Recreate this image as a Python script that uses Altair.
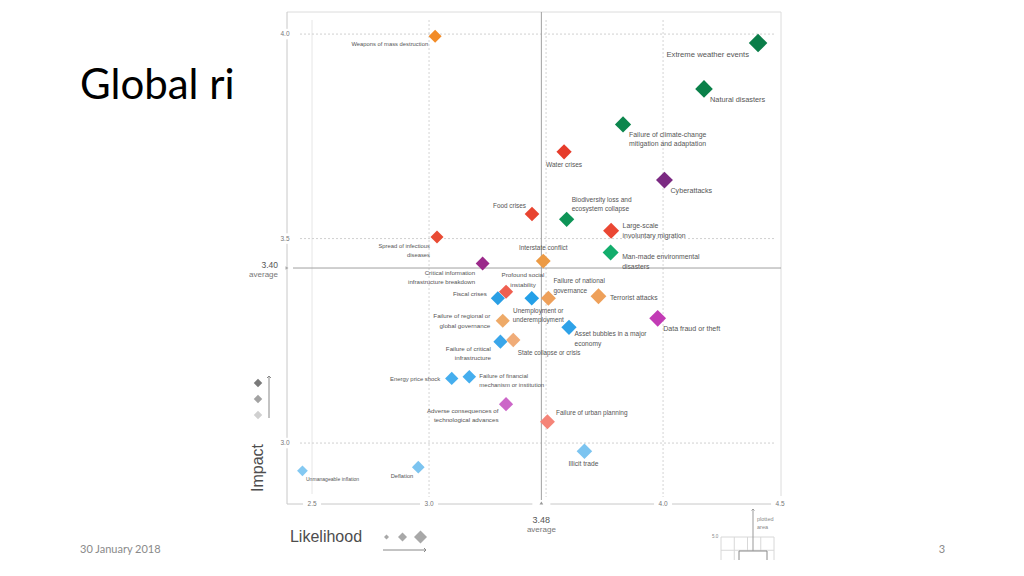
import altair as alt
import pandas as pd

# ---------------- data ----------------
risks = [
    "Weapons of mass destruction", "Extreme weather events", "Natural disasters",
    "Failure of climate-change mitigation and adaptation", "Water crises", "Cyberattacks",
    "Food crises", "Biodiversity loss and ecosystem collapse", "Large-scale involuntary migration",
    "Spread of infectious diseases", "Man-made environmental disasters", "Interstate conflict",
    "Critical information infrastructure breakdown", "Profound social instability", "Fiscal crises",
    "Unemployment or underemployment", "Failure of national governance", "Terrorist attacks",
    "Data fraud or theft", "Failure of regional or global governance", "Asset bubbles in a major economy",
    "Failure of critical infrastructure", "State collapse or crisis", "Energy price shock",
    "Failure of financial mechanism or institution", "Adverse consequences of technological advances",
    "Failure of urban planning", "Illicit trade", "Deflation", "Unmanageable inflation",
]
likelihood = [3.026, 4.406, 4.175, 3.829, 3.577, 4.006, 3.440, 3.588, 3.778, 3.034,
              3.776, 3.488, 3.229, 3.329, 3.294, 3.439, 3.510, 3.724, 3.977, 3.315,
              3.598, 3.305, 3.360, 3.097, 3.172, 3.329, 3.506, 3.664, 2.954, 2.459]
impact = [3.995, 3.978, 3.866, 3.779, 3.712, 3.643, 3.560, 3.547, 3.519, 3.504,
          3.466, 3.445, 3.439, 3.370, 3.354, 3.354, 3.354, 3.359, 3.305, 3.299,
          3.283, 3.248, 3.252, 3.158, 3.162, 3.095, 3.052, 2.980, 2.941, 2.932]
colors = ["#f28c28", "#0a7d49", "#0a8049", "#0c864d", "#e63c2b", "#7b2a82",
          "#e84430", "#0e9457", "#ea4733", "#e94b34", "#13ad6c", "#ec9a44",
          "#9b2a8a", "#ef5f50", "#2a9fe4", "#24a0e8", "#eea05a", "#eea05a",
          "#c23bb5", "#eeaa68", "#2ea2e8", "#3aa6ea", "#f0ac78", "#45aeee",
          "#45aeee", "#cc66c8", "#f58478", "#7cc4f0", "#7cc4f0", "#84c9f2"]
labels = [
    "Weapons of mass destruction", "Extreme weather events", "Natural disasters",
    "Failure of climate-change\nmitigation and adaptation", "Water crises", "Cyberattacks",
    "Food crises", "Biodiversity loss and\necosystem collapse", "Large-scale\ninvoluntary migration",
    "Spread of infectious\ndiseases", "Man-made environmental\ndisasters", "Interstate conflict",
    "Critical information\ninfrastructure breakdown", "Profound social\ninstability", "Fiscal crises",
    "Unemployment or\nunderemployment", "Failure of national\ngovernance", "Terrorist attacks",
    "Data fraud or theft", "Failure of regional or\nglobal governance", "Asset bubbles in a major\neconomy",
    "Failure of critical\ninfrastructure", "State collapse or crisis", "Energy price shock",
    "Failure of financial\nmechanism or institution", "Adverse consequences of\ntechnological advances",
    "Failure of urban planning", "Illicit trade", "Deflation", "Unmanageable inflation",
]

x_grid_solid = [2.5]
x_grid_dotted = [3.0, 3.5, 4.0]
y_grid = [3.0, 3.5, 4.0]
x_tick_labels = [2.5, 3.0, 4.0, 4.5]
y_tick_labels = [3.0, 3.5, 4.0]
avg_likelihood = 3.48
avg_impact_text = "3.40"
avg_impact_line = 3.428   # where the reference draws its average line

# ---------------- label layout (pixel offsets from each diamond) ----------------
label_align = ["right", "right", "left", "left", "center", "left", "right", "left", "left", "right",
               "left", "center", "right", "center", "right", "center", "left", "left", "left", "right",
               "left", "right", "left", "right", "left", "right", "left", "center", "right", "left"]
label_dx = [-7, -9, 6, 6, 0, 6, -6, 5, 11.5, -7,
            11.5, 0, -7.5, 17, -11, 6.5, 5, 11.5, 5.5, -12.5,
            5.5, -9.5, 4.5, -11.5, 10, -7.5, 8.5, -1, -5, 3.5]
label_dy = [8, 12, 11, 10.5, 13, 10.5, -8, -19.5, -4.5, 9,
            5, -13.5, 9, -16.5, -4, 12.5, -17, 1.5, 10.5, -4.5,
            7, 7.5, 12.5, 0.5, -1, 6.5, -8.5, 13, 8.5, 8.5]

df = pd.DataFrame({"risk": risks, "likelihood": likelihood, "impact": impact,
                   "color": colors, "label": labels})

# ---------------- geometry ----------------
W, H = 494, 492          # plot area: page x 287..781, page y 12..504
OX, OY = 287, 12
def px(X): return X - OX
def py(Y): return Y - OY

xs = alt.Scale(domain=[2.393, 4.504], nice=False, zero=False)
ys = alt.Scale(domain=[2.851, 4.054], nice=False, zero=False)
LF = "Liberation Sans"
one = pd.DataFrame({"k": [0]})

def hline(Y, X1, X2, color, dash=None, width=1):
    kw = dict(color=color, strokeWidth=width)
    if dash:
        kw["strokeDash"] = dash
    return alt.Chart(one).mark_rule(**kw).encode(
        x=alt.value(px(X1)), x2=alt.value(px(X2)), y=alt.value(py(Y)))

def vline(X, Y1, Y2, color, dash=None, width=1):
    kw = dict(color=color, strokeWidth=width)
    if dash:
        kw["strokeDash"] = dash
    return alt.Chart(one).mark_rule(**kw).encode(
        x=alt.value(px(X)), y=alt.value(py(Y1)), y2=alt.value(py(Y2)))

def text_at(X, Y, s, size, color="#555", align="center", baseline="middle",
            font=LF, angle=None, weight=None, lineHeight=None):
    kw = dict(text=s, fontSize=size, color=color, align=align, baseline=baseline, font=font)
    if angle is not None:
        kw["angle"] = angle
    if weight:
        kw["fontWeight"] = weight
    if lineHeight:
        kw["lineHeight"] = lineHeight
        kw["lineBreak"] = "\n"
    return alt.Chart(one).mark_text(**kw).encode(x=alt.value(px(X)), y=alt.value(py(Y)))

def sym_at(X, Y, shape, size, color, filled=True, sw=1):
    if filled:
        kw = dict(shape=shape, size=size, opacity=1, filled=True, fill=color, strokeWidth=0)
    else:
        kw = dict(shape=shape, size=size, opacity=1, filled=False, stroke=color, strokeWidth=sw)
    return alt.Chart(one).mark_point(**kw).encode(x=alt.value(px(X)), y=alt.value(py(Y)))

layers = []

# slide title and footer
layers.append(text_at(80, 99, "Global ri", 42, "#000000", align="left", baseline="alphabetic", font="Lato"))
layers.append(text_at(80, 550, "30 January 2018", 11, "#8a8a8a", align="left", font="Lato"))
layers.append(text_at(942, 550, "3", 11, "#8a8a8a", font="Lato"))

# grid lines
layers.append(alt.Chart(pd.DataFrame({"v": x_grid_solid})).mark_rule(color="#e6e6e6").encode(
    x=alt.X("v:Q", scale=xs, axis=None), y=alt.value(py(20)), y2=alt.value(py(494))))
layers.append(alt.Chart(pd.DataFrame({"v": x_grid_dotted})).mark_rule(color="#d4d4d4", strokeDash=[2, 2]).encode(
    x=alt.X("v:Q", scale=xs, axis=None), y=alt.value(py(20)), y2=alt.value(py(497))))
layers.append(alt.Chart(pd.DataFrame({"v": y_grid})).mark_rule(color="#d0d0d0", strokeDash=[2, 2]).encode(
    y=alt.Y("v:Q", scale=ys, axis=None), x=alt.value(px(300)), x2=alt.value(px(774))))

# frame
layers.append(hline(12, 287, 781, "#dcdcdc"))
layers.append(vline(781, 12, 496, "#dcdcdc"))
layers.append(vline(287, 12, 504, "#c8c8c8"))
layers.append(hline(504, 287, 781, "#c8c8c8"))

# average lines
layers.append(alt.Chart(pd.DataFrame({"v": [avg_likelihood]})).mark_rule(color="#a0a0a0").encode(
    x=alt.X("v:Q", scale=xs, axis=None), y=alt.value(py(12)), y2=alt.value(py(500))))
layers.append(alt.Chart(pd.DataFrame({"v": [avg_impact_line]})).mark_rule(color="#a0a0a0").encode(
    y=alt.Y("v:Q", scale=ys, axis=None), x=alt.value(px(293)), x2=alt.value(px(781))))

# white gaps for axis labels
rect_shape = "M-1,-0.4L1,-0.4L1,0.4L-1,0.4Z"
layers.append(alt.Chart(pd.DataFrame({"v": x_tick_labels + [avg_likelihood]})).mark_point(
    shape=rect_shape, size=324, filled=True, fill="white", strokeWidth=0, opacity=1).encode(
    x=alt.X("v:Q", scale=xs, axis=None), y=alt.value(py(504))))
layers.append(alt.Chart(pd.DataFrame({"v": y_tick_labels})).mark_point(
    shape="square", size=110, filled=True, fill="white", strokeWidth=0, opacity=1).encode(
    y=alt.Y("v:Q", scale=ys, axis=None), x=alt.value(px(286))))

# tick labels
xt = pd.DataFrame({"v": x_tick_labels, "t": [f"{v:.1f}" for v in x_tick_labels]})
layers.append(alt.Chart(xt).mark_text(fontSize=6.5, color="#777", font=LF, baseline="middle").encode(
    x=alt.X("v:Q", scale=xs, axis=None), y=alt.value(py(504)), text="t:N"))
yt = pd.DataFrame({"v": y_tick_labels, "t": [f"{v:.1f}" for v in y_tick_labels]})
layers.append(alt.Chart(yt).mark_text(fontSize=6.5, color="#777", font=LF, baseline="middle").encode(
    y=alt.Y("v:Q", scale=ys, axis=None), x=alt.value(px(285)), text="t:N"))

# average markers and labels
layers.append(alt.Chart(pd.DataFrame({"v": [avg_likelihood]})).mark_point(
    shape="triangle-up", size=14, filled=True, fill="#999", strokeWidth=0, opacity=1).encode(
    x=alt.X("v:Q", scale=xs, axis=None), y=alt.value(py(503))))
layers.append(alt.Chart(pd.DataFrame({"v": [avg_likelihood], "t": [f"{avg_likelihood:.2f}"]})).mark_text(
    fontSize=9, color="#555", font=LF).encode(x=alt.X("v:Q", scale=xs, axis=None), y=alt.value(py(520)), text="t:N"))
layers.append(alt.Chart(pd.DataFrame({"v": [avg_likelihood]})).mark_text(
    text="average", fontSize=8, color="#777", font=LF).encode(x=alt.X("v:Q", scale=xs, axis=None), y=alt.value(py(530))))
layers.append(alt.Chart(pd.DataFrame({"v": [avg_impact_line]})).mark_point(
    shape="triangle-right", size=12, filled=True, fill="#aaa", strokeWidth=0, opacity=1).encode(
    y=alt.Y("v:Q", scale=ys, axis=None), x=alt.value(px(287))))
layers.append(text_at(278, 265, avg_impact_text, 8.5, "#555", align="right"))
layers.append(text_at(278, 275, "average", 8, "#777", align="right"))

# risk diamonds
layers.append(alt.Chart(df).transform_calculate(
    ps="pow(10.5 + (datum.likelihood - 2.4) * 4, 2)").mark_point(
    shape="diamond", filled=True, opacity=1, strokeWidth=0).encode(
    x=alt.X("likelihood:Q", scale=xs, axis=None),
    y=alt.Y("impact:Q", scale=ys, axis=None),
    fill=alt.Fill("color:N", scale=None),
    size=alt.Size("ps:Q", scale=None),
    tooltip=["risk:N", "likelihood:Q", "impact:Q"]))

# risk labels (one layer per label so each gets its own offset)
for i, r in enumerate(risks):
    layers.append(alt.Chart(df).transform_filter(alt.datum.risk == r).transform_calculate(
        fs="5 + (datum.likelihood - 2.4) * 1.33").mark_text(
        align=label_align[i], dx=label_dx[i], dy=label_dy[i], baseline="middle",
        lineBreak="\n", lineHeight=9.3, font=LF, color="#555").encode(
        x=alt.X("likelihood:Q", scale=xs, axis=None),
        y=alt.Y("impact:Q", scale=ys, axis=None),
        size=alt.Size("fs:Q", scale=None),
        text="label:N"))

# legend: impact
imp_leg_colors = ["#7a7a7a", "#a2a2a2", "#d0d0d0"]
for i, c in enumerate(imp_leg_colors):
    layers.append(sym_at(258, 383 + 16 * i, "diamond", 72, c))
layers.append(vline(269, 376, 418, "#888"))
layers.append(sym_at(269, 376, "M-1,1L0,0L1,1", 16, "#888", filled=False))
layers.append(text_at(258, 468, "Impact", 16, "#4d4d4d", angle=270))

# legend: likelihood
lik_leg_sizes = [25, 81, 169]
lik_leg_x = [386.5, 402.5, 420.5]
for xx, s in zip(lik_leg_x, lik_leg_sizes):
    layers.append(sym_at(xx, 537, "diamond", s, "#a8a8a8"))
layers.append(hline(550, 383, 426, "#888"))
layers.append(sym_at(426, 550, "M-1,-1L0,0L-1,1", 16, "#888", filled=False))
layers.append(text_at(326, 537, "Likelihood", 16, "#4d4d4d"))

# inset: plotted area within full 1-5 scale
for gx in [721, 734.25, 747.5, 760.75, 774]:
    layers.append(vline(gx, 537, 560, "#d8d8d8"))
for gy in [537, 550.25]:
    layers.append(hline(gy, 721, 774, "#d8d8d8"))
layers.append(alt.Chart(one).mark_rect(fill="white", stroke="#8a8a8a", strokeWidth=1).encode(
    x=alt.value(px(739)), x2=alt.value(px(767)), y=alt.value(py(551)), y2=alt.value(py(566))))
layers.append(vline(753, 509, 551, "#999"))
layers.append(sym_at(753, 509, "M-1,1L0,0L1,1", 9, "#999", filled=False))
layers.append(text_at(757, 518.5, "plotted\narea", 5.5, "#888", align="left", lineHeight=8))
layers.append(text_at(715, 537, "5.0", 4.5, "#888"))

chart = alt.layer(*layers).properties(
    width=W, height=H,
    padding={"left": 279, "top": 4, "right": 235, "bottom": 56},
    autosize=alt.AutoSizeParams(type="none"),
    background="white",
).configure_view(stroke=None)

chart.save("out.html", embed_options={"renderer": "svg", "actions": False})
